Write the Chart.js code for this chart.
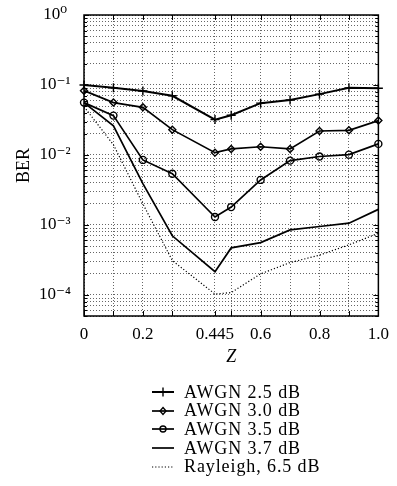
<!DOCTYPE html>
<html><head><meta charset="utf-8">
<script src="https://cdn.jsdelivr.net/npm/chart.js@4/dist/chart.umd.min.js"></script>
<style>
html,body{margin:0;padding:0;background:#fff;}
#wrap{position:relative;width:397px;height:486px;}
#c{position:absolute;left:0;top:0;}
#legend{position:absolute;left:152px;top:383px;font-family:"Liberation Serif","DejaVu Serif",serif;font-size:18px;letter-spacing:0.9px;color:#000;}
.row{height:18.6px;display:flex;align-items:center;white-space:nowrap;}
.row svg{margin-right:10px;flex:none;}
</style></head><body>
<div id="wrap"><canvas id="c" width="397" height="486"></canvas><div id="legend"></div></div>
<script>
// ---- data ----
const zValues = [0, 0.1, 0.2, 0.3, 0.445, 0.5, 0.6, 0.7, 0.8, 0.9, 1.0];
const xTickValues = [0, 0.2, 0.445, 0.6, 0.8, 1.0];
const xTickLabels = ['0', '0.2', '0.445', '0.6', '0.8', '1.0'];
const seriesNames = ['AWGN 2.5 dB', 'AWGN 3.0 dB', 'AWGN 3.5 dB', 'AWGN 3.7 dB', 'Rayleigh, 6.5 dB'];
const awgn25 = [0.1, 0.091, 0.082, 0.070, 0.032, 0.037, 0.055, 0.061, 0.074, 0.091, 0.090];
const awgn30 = [0.083, 0.056, 0.048, 0.023, 0.0108, 0.0122, 0.0131, 0.0122, 0.022, 0.0225, 0.031];
const awgn35 = [0.056, 0.0365, 0.0085, 0.0054, 0.0013, 0.0018, 0.0044, 0.0083, 0.0095, 0.0101, 0.0144];
const awgn37 = [0.056, 0.026, 0.0039, 0.0007, 0.000215, 0.00047, 0.00056, 0.00085, 0.00095, 0.00106, 0.00167];
const rayleigh = [0.049, 0.014, 0.002, 0.00031, 0.000103, 0.000108, 0.0002, 0.00029, 0.00037, 0.00052, 0.00076];
const yMin = 5e-5, yMax = 1;
const xTitle = 'Z', yTitle = 'BER';

// ---- helpers ----
const supMap = {'0':'⁰','1':'¹','2':'²','3':'³','4':'⁴','5':'⁵','6':'⁶','7':'⁷','8':'⁸','9':'⁹','-':'⁻'};
const sup = n => String(n).split('').map(c => supMap[c]).join('');
const isPow10 = v => Math.abs(Math.log10(v) - Math.round(Math.log10(v))) < 1e-9;
const FONT = '"Liberation Serif", "DejaVu Serif", serif';

const styles = [
  {pointStyle:'cross', radius:4.5, borderWidth:2, dash:[]},
  {pointStyle:'rectRot', radius:3.5, borderWidth:1.7, dash:[]},
  {pointStyle:'circle', radius:3.5, borderWidth:1.7, dash:[]},
  {pointStyle:false, radius:0, borderWidth:1.7, dash:[]},
  {pointStyle:false, radius:0, borderWidth:1.2, dash:[1.2,2]}
];
const seriesData = [awgn25, awgn30, awgn35, awgn37, rayleigh];

const datasets = seriesData.map((vals, i) => ({
  label: seriesNames[i],
  data: zValues.map((z, j) => ({x: z, y: vals[j]})),
  borderColor: '#000',
  backgroundColor: 'rgba(0,0,0,0)',
  borderWidth: styles[i].borderWidth,
  borderDash: styles[i].dash,
  pointStyle: styles[i].pointStyle,
  pointRadius: styles[i].radius,
  pointBorderWidth: 1.4,
  pointBorderColor: '#000',
  pointBackgroundColor: 'rgba(0,0,0,0)',
  tension: 0,
  clip: false
}));

const framePlugin = {
  id: 'frame',
  afterDraw(chart) {
    const {ctx, chartArea: {left, right, top, bottom}, scales: {x, y}} = chart;
    ctx.save();
    ctx.strokeStyle = '#000';
    ctx.lineWidth = 1;
    ctx.beginPath();
    x.ticks.forEach(t => {
      const px = Math.round(x.getPixelForValue(t.value)) + 0.5;
      ctx.moveTo(px, bottom); ctx.lineTo(px, bottom - 5);
      ctx.moveTo(px, top); ctx.lineTo(px, top + 5);
    });
    y.ticks.forEach(t => {
      const py = Math.round(y.getPixelForValue(t.value)) + 0.5;
      const l = isPow10(t.value) ? 5 : 3;
      ctx.moveTo(left, py); ctx.lineTo(left + l, py);
      ctx.moveTo(right, py); ctx.lineTo(right - l, py);
    });
    ctx.stroke();
    ctx.lineWidth = 1.5;
    ctx.strokeRect(left, top, right - left, bottom - top);
    ctx.restore();
  }
};

const chart = new Chart(document.getElementById('c'), {
  type: 'line',
  data: {datasets},
  options: {
    responsive: false,
    animation: false,
    devicePixelRatio: 1,
    layout: {padding: {left: 0, right: 18, top: 15, bottom: 114}},
    plugins: {legend: {display: false}, tooltip: {enabled: false}},
    scales: {
      x: {
        type: 'linear', min: 0, max: 1,
        afterFit: s => { s.height = 56; },
        afterBuildTicks: s => { s.ticks = zValues.map(v => ({value: v})); },
        ticks: {
          autoSkip: false, maxRotation: 0, padding: 8, color: '#000',
          font: {family: FONT, size: 17},
          callback: v => { const k = xTickValues.findIndex(t => Math.abs(t - v) < 1e-9); return k >= 0 ? xTickLabels[k] : ''; }
        },
        grid: {color: 'rgba(0,0,0,0.6)', lineWidth: 1, drawTicks: false},
        border: {display: false, dash: [1, 2]},
        title: {display: true, text: xTitle, color: '#000', font: {family: FONT, size: 18, style: 'italic'}, padding: {top: 4, bottom: 4}}
      },
      y: {
        type: 'logarithmic', min: yMin, max: yMax,
        afterFit: s => { s.width = 84; },
        afterBuildTicks: s => {
          const t = [];
          for (let e = -5; e <= 0; e++) {
            for (let m = 1; m <= 9; m++) {
              const v = m * Math.pow(10, e);
              if (v >= yMin * 0.999 && v <= yMax * 1.001) t.push({value: v});
            }
          }
          s.ticks = t;
        },
        ticks: {
          autoSkip: false, padding: 2, color: '#000', crossAlign: 'center',
          font: {family: FONT, size: 17},
          callback: v => isPow10(v) ? '10' + sup(Math.round(Math.log10(v))) : ''
        },
        grid: {color: 'rgba(0,0,0,0.6)', lineWidth: 1, drawTicks: true, tickLength: 11, tickColor: 'rgba(0,0,0,0)'},
        border: {display: false, dash: [1, 2]},
        title: {display: true, text: yTitle, color: '#000', font: {family: FONT, size: 18}, padding: {top: 13, bottom: 0}}
      }
    }
  },
  plugins: [framePlugin]
});

// ---- HTML legend built from datasets ----
const legend = document.getElementById('legend');
datasets.forEach((ds, i) => {
  const st = styles[i];
  const row = document.createElement('div');
  row.className = 'row';
  let marker = '';
  const cx = 11, cy = 6;
  if (st.pointStyle === 'cross') marker = `<line x1="${cx}" y1="${cy-4.5}" x2="${cx}" y2="${cy+4.5}" stroke="#000" stroke-width="1.4"/>`;
  if (st.pointStyle === 'rectRot') marker = `<polygon points="${cx},${cy-3.5} ${cx+3},${cy} ${cx},${cy+3.5} ${cx-3},${cy}" fill="none" stroke="#000" stroke-width="1.4"/>`;
  if (st.pointStyle === 'circle') marker = `<circle cx="${cx}" cy="${cy}" r="3" fill="none" stroke="#000" stroke-width="1.4"/>`;
  const dash = st.dash.length ? `stroke-dasharray="${st.dash.join(',')}"` : '';
  row.innerHTML = `<svg width="22" height="12"><line x1="0" y1="${cy}" x2="22" y2="${cy}" stroke="#000" stroke-width="${st.borderWidth}" ${dash}/>${marker}</svg><span>${ds.label}</span>`;
  legend.appendChild(row);
});
</script>
</body></html>
